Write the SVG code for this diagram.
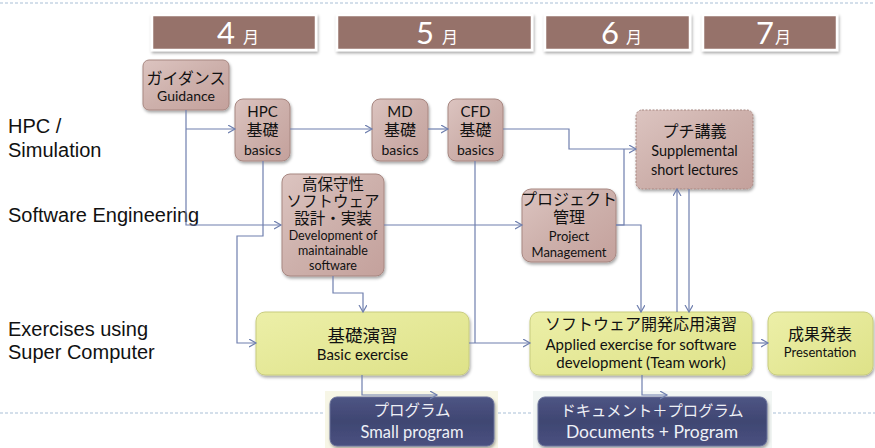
<svg xmlns="http://www.w3.org/2000/svg" width="875" height="448" viewBox="0 0 875 448">
<defs>
<linearGradient id="gPink" x1="0" y1="0" x2="1" y2="1">
<stop offset="0" stop-color="#dcc4c0"/><stop offset="0.5" stop-color="#cdb0ab"/><stop offset="1" stop-color="#c4a19c"/>
</linearGradient>
<linearGradient id="gYel" x1="0" y1="0" x2="1" y2="1">
<stop offset="0" stop-color="#ecefa8"/><stop offset="1" stop-color="#dee288"/>
</linearGradient>
<linearGradient id="gBlue" x1="0" y1="0" x2="0" y2="1">
<stop offset="0" stop-color="#4e5584"/><stop offset="0.5" stop-color="#3f4672"/><stop offset="1" stop-color="#4a5180"/>
</linearGradient>
<filter id="sh" x="-10%" y="-10%" width="125%" height="130%">
<feDropShadow dx="1" dy="2" stdDeviation="1.5" flood-color="#000" flood-opacity="0.35"/>
</filter>
<marker id="arr" markerUnits="userSpaceOnUse" markerWidth="10" markerHeight="10" refX="7" refY="4" orient="auto">
<path d="M0,0 L7,4 L0,8" fill="none" stroke="#6f7fae" stroke-width="1.2"/>
</marker>
<style>
.month{fill:#96726a;stroke:#fff;stroke-width:2.5;filter:url(#sh)}
.mnum{font-family:Lato,"Liberation Sans",sans-serif;font-size:31px;fill:#fff}
.mtsu{font-family:"Noto Sans CJK JP",sans-serif;font-size:16px;fill:#fff}
.pink{fill:url(#gPink);stroke:#a78781;stroke-width:1;filter:url(#sh)}
.pinkd{fill:url(#gPink);stroke:#a78781;stroke-width:1;stroke-dasharray:2 1.5;filter:url(#sh)}
.yel{fill:url(#gYel);stroke:#c8cc7e;stroke-width:1;filter:url(#sh)}
.dark{fill:url(#gBlue);stroke:#6a719a;stroke-width:1;filter:url(#sh)}
.t{font-family:Lato,"Noto Sans CJK JP",sans-serif;fill:#111;text-anchor:middle}
.jp{font-size:16px}
.en{font-size:14px}
.en15{font-size:15px}
.sm{font-size:13px}
.w{fill:#eef0f6}
.lab{font-family:"Liberation Sans",Arial,sans-serif;font-size:20px;fill:#111}
.dash{stroke:#a9bfd6;stroke-width:1;stroke-dasharray:3 2;fill:none}
.c{fill:none;stroke:#6f7fae;stroke-width:1.2}
</style>
</defs>
<rect width="875" height="448" fill="#fff"/>
<line class="dash" x1="0" y1="3" x2="875" y2="3"/>
<path class="dash" d="M0,413 H325 M498,413 H538 M768,413 H875"/>

<g id="lbl">
<text class="lab" x="8" y="133">HPC /</text>
<text class="lab" x="8" y="157">Simulation</text>
<text class="lab" x="8" y="222">Software Engineering</text>
<text class="lab" x="8" y="336">Exercises using</text>
<text class="lab" x="8" y="359">Super Computer</text>
</g>

<g id="m4"><rect class="month" x="152" y="15" width="164" height="35"/><text x="217" y="44" class="mnum">4</text><text x="243" y="43" class="mtsu">月</text></g>
<g id="m5"><rect class="month" x="337" y="15" width="195" height="35"/><text x="416" y="44" class="mnum">5</text><text x="442" y="43" class="mtsu">月</text></g>
<g id="m6"><rect class="month" x="545" y="15" width="145" height="35"/><text x="601" y="44" class="mnum">6</text><text x="626" y="43" class="mtsu">月</text></g>
<g id="m7"><rect class="month" x="703" y="15" width="134" height="35"/><text x="756" y="44" class="mnum">7</text><text x="775" y="43" class="mtsu">月</text></g>

<g id="guidance"><rect class="pink" x="143" y="60" width="86" height="50" rx="6"/>
<text class="t jp" x="186" y="84">ガイダンス</text><text class="t en" x="186" y="101">Guidance</text></g>
<g id="hpc"><rect class="pink" x="235" y="99" width="55" height="62" rx="8"/>
<text class="t en15" x="262.5" y="117">HPC</text><text class="t jp" x="262.5" y="136">基礎</text><text class="t en" x="262.5" y="155">basics</text></g>
<g id="md"><rect class="pink" x="372" y="99" width="56" height="62" rx="8"/>
<text class="t en15" x="400" y="117">MD</text><text class="t jp" x="400" y="136">基礎</text><text class="t en" x="400" y="155">basics</text></g>
<g id="cfd"><rect class="pink" x="448" y="99" width="55" height="62" rx="8"/>
<text class="t en15" x="475.5" y="117">CFD</text><text class="t jp" x="475.5" y="136">基礎</text><text class="t en" x="475.5" y="155">basics</text></g>
<g id="petit"><rect class="pinkd" x="636" y="110" width="117" height="79" rx="6"/>
<text class="t jp" x="694.5" y="137">プチ講義</text><text class="t" x="694.5" y="156" font-size="14.5">Supplemental</text><text class="t" x="694.5" y="175" font-size="14.5">short lectures</text></g>
<g id="maint"><rect class="pink" x="282" y="174" width="102" height="102" rx="8"/>
<text class="t" font-size="15.5" x="333" y="190">高保守性</text><text class="t" font-size="15.5" x="333" y="207">ソフトウェア</text><text class="t" font-size="15.5" x="333" y="224">設計・実装</text>
<text class="t" font-size="12.5" x="333" y="240">Development of</text><text class="t" font-size="12.5" x="333" y="255">maintainable</text><text class="t" font-size="12.5" x="333" y="270">software</text></g>
<g id="pm"><rect class="pink" x="522" y="189" width="94" height="73" rx="9"/>
<text class="t jp" x="569" y="205">プロジェクト</text><text class="t jp" x="569" y="223">管理</text><text class="t sm" x="569" y="241">Project</text><text class="t sm" x="569" y="257">Management</text></g>
<g id="basic"><rect class="yel" x="256" y="312" width="213" height="63" rx="9"/>
<text class="t" x="362.5" y="342" font-size="17.5">基礎演習</text><text class="t en15" x="362.5" y="360">Basic exercise</text></g>
<g id="applied"><rect class="yel" x="530" y="312" width="222" height="63" rx="9"/>
<text class="t jp" x="641" y="330">ソフトウェア開発応用演習</text><text class="t en15" x="641" y="350">Applied exercise for software</text><text class="t en15" x="641" y="368">development (Team work)</text></g>
<g id="present"><rect class="yel" x="768" y="312" width="105" height="63" rx="9"/>
<text class="t jp" x="820" y="340">成果発表</text><text class="t sm" x="820" y="357">Presentation</text></g>
<g id="smallprog"><rect x="325" y="391" width="173" height="57" fill="#f7f6e6"/><rect class="dark" x="330" y="397" width="164" height="49" rx="7"/>
<text class="t w" x="412" y="416" font-size="15.5">プログラム</text><text class="t w" x="412" y="438" font-size="16.5">Small program</text></g>
<g id="docs"><rect x="533" y="391" width="239" height="57" fill="#f2f6f4"/><rect class="dark" x="538" y="397" width="229" height="49" rx="7"/>
<text class="t w" x="652" y="416" font-size="15.3">ドキュメント＋プログラム</text><text class="t w" x="652" y="438" font-size="17.5">Documents + Program</text></g>

<g id="connectors">
<path class="c" d="M186,110 V225 H281" marker-end="url(#arr)"/>
<path class="c" d="M186,129 H235" marker-end="url(#arr)"/>
<path class="c" d="M290,129 H372" marker-end="url(#arr)"/>
<path class="c" d="M428,129 H448" marker-end="url(#arr)"/>
<path class="c" d="M503,129 H569 V149 H636" marker-end="url(#arr)"/>
<path class="c" d="M263,161 V236 H237 V343 H256" marker-end="url(#arr)"/>
<path class="c" d="M384,225 H522" marker-end="url(#arr)"/>
<path class="c" d="M333,276 V293 H363 V312" marker-end="url(#arr)"/>
<path class="c" d="M475,161 V343"/>
<path class="c" d="M469,343 H530" marker-end="url(#arr)"/>
<path class="c" d="M616,225 H624 V149"/>
<path class="c" d="M616,225 H641 V312" marker-end="url(#arr)"/>
<path class="c" d="M677,312 V189" marker-end="url(#arr)"/>
<path class="c" d="M689,189 V312" marker-end="url(#arr)"/>
<path class="c" d="M752,343 H768" marker-end="url(#arr)"/>
<path class="c" d="M362,375 V395 H437" marker-end="url(#arr)"/>
<path class="c" d="M642,375 V395 H667" marker-end="url(#arr)"/>
</g>
</svg>
